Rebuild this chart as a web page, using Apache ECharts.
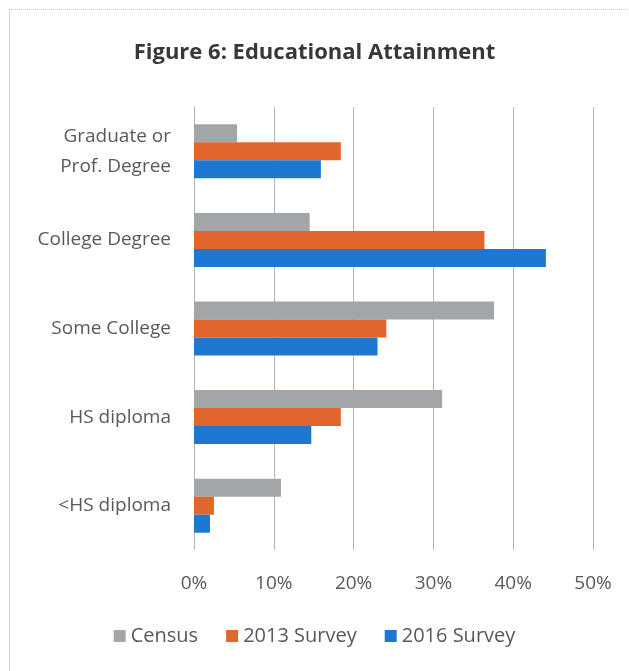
<!DOCTYPE html>
<html>
<head>
<meta charset="utf-8">
<script src="https://cdn.jsdelivr.net/npm/echarts@6/dist/echarts.min.js"></script>
<style>
  html, body { margin: 0; padding: 0; background: #fff; }
  #frame {
    position: absolute; left: 9px; top: 9px; width: 640px; height: 680px;
    border-left: 1px solid #d4d4d4; border-top: 1px dotted #c8c8c8;
  }
  #chart { position: absolute; left: 0; top: 0; width: 629px; height: 671px; }
</style>
</head>
<body>
<div id="frame"></div>
<div id="chart"></div>
<script>
// Education levels, listed top to bottom
const categories = ['Graduate or\nProf. Degree', 'College Degree', 'Some College', 'HS diploma', '<HS diploma'];
// Share of respondents (%) at each level
const census = [5.4, 14.5, 37.6, 31.1, 10.9];
const survey2013 = [18.4, 36.4, 24.1, 18.4, 2.5];
const survey2016 = [15.9, 44.1, 23.0, 14.7, 2.0];
const seriesNames = ['Census', '2013 Survey', '2016 Survey'];
const xTicks = { min: 0, max: 50, step: 10 };

const FONT = '"Open Sans", "Noto Sans", sans-serif';
const chart = echarts.init(document.getElementById('chart'), null, { renderer: 'canvas' });

const makeSeries = (name, data, color) => ({
  name, type: 'bar', data,
  barGap: '0%', barCategoryGap: '39%',
  itemStyle: { color },
  emphasis: { disabled: true }
});

chart.setOption({
  animation: false,
  title: {
    text: 'Figure 6: Educational Attainment',
    left: 'center', top: 37,
    textStyle: { fontFamily: FONT, fontWeight: 'bold', fontSize: 22, color: '#383838' }
  },
  grid: { left: 194, right: 36, top: 107, bottom: 121, containLabel: false },
  xAxis: {
    type: 'value', min: xTicks.min, max: xTicks.max, interval: xTicks.step,
    axisLine: { show: false }, axisTick: { show: false },
    splitLine: { show: true, lineStyle: { color: '#b4b4b4', width: 1 } },
    axisLabel: {
      formatter: v => v + '%', margin: 24,
      fontFamily: FONT, fontSize: 19, color: '#595959'
    }
  },
  yAxis: {
    type: 'category', data: categories, inverse: true,
    axisLine: { show: true, lineStyle: { color: '#b4b4b4' } },
    axisTick: { show: false },
    axisLabel: {
      margin: 23, fontFamily: FONT, fontSize: 19, color: '#595959',
      lineHeight: 30, align: 'right'
    }
  },
  legend: {
    data: seriesNames, bottom: 20, left: 'center',
    itemWidth: 12, itemHeight: 12, itemGap: 28,
    icon: 'rect',
    textStyle: { fontFamily: FONT, fontSize: 20, color: '#595959' }
  },
  series: [
    makeSeries(seriesNames[0], census, '#a3a6a8'),
    makeSeries(seriesNames[1], survey2013, '#e1662c'),
    makeSeries(seriesNames[2], survey2016, '#1e78d2')
  ]
});
</script>
</body>
</html>
